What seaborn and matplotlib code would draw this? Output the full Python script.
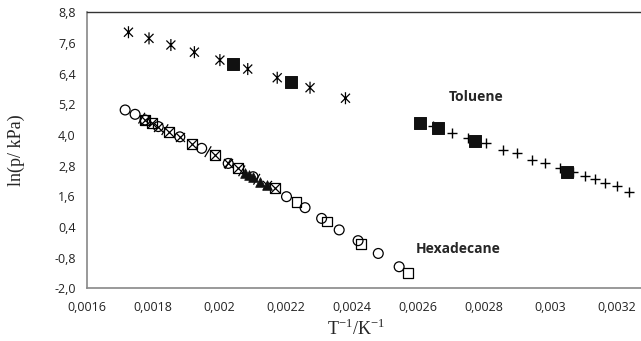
import numpy as np
import seaborn as sns
import matplotlib
matplotlib.use('Agg')
import matplotlib.pyplot as plt
from matplotlib.path import Path

# toluene
tol_star_x = [0.001726, 0.001788, 0.001854, 0.001925, 0.002002, 0.002086, 0.002175, 0.002274, 0.002381]
tol_star_y = [8.02, 7.78, 7.52, 7.24, 6.93, 6.58, 6.24, 5.85, 5.44]
tol_sq_x = [0.00204, 0.002218, 0.002605, 0.002661, 0.002771, 0.00305]
tol_sq_y = [6.78, 6.09, 4.48, 4.29, 3.78, 2.57]
tol_plus_x = [0.002645, 0.002702, 0.00275, 0.002805, 0.002856, 0.002898, 0.002943, 0.002983,
              0.003028, 0.003067, 0.003103, 0.003133, 0.003164, 0.0032, 0.003237]
tol_plus_y = [4.35, 4.08, 3.88, 3.68, 3.41, 3.30, 3.02, 2.91, 2.72, 2.55, 2.40, 2.28, 2.12, 1.99, 1.77]

# hexadecane
hex_circ_x = [0.001716, 0.001746, 0.001776, 0.001816, 0.001881, 0.001947, 0.002027, 0.002102,
              0.002203, 0.002259, 0.002309, 0.002362, 0.002419, 0.00248, 0.002543]
hex_circ_y = [4.98, 4.81, 4.59, 4.33, 3.93, 3.48, 2.89, 2.37, 1.59, 1.16, 0.74, 0.29, -0.13, -0.63, -1.15]
hex_sq_x = [0.001776, 0.001796, 0.001849, 0.001917, 0.001987, 0.002057, 0.002168, 0.002233,
            0.002324, 0.002427, 0.00257]
hex_sq_y = [4.59, 4.46, 4.13, 3.64, 3.22, 2.70, 1.92, 1.39, 0.62, -0.26, -1.38]
hex_x_x = [0.001776, 0.001796, 0.001816, 0.001849, 0.001881, 0.001917, 0.001987, 0.002027,
           0.002057, 0.002143, 0.002168]
hex_x_y = [4.59, 4.46, 4.33, 4.13, 3.93, 3.64, 3.22, 2.89, 2.70, 2.05, 1.92]
hex_slash_x = [0.001766, 0.001836, 0.001966, 0.002027, 0.002068, 0.002113]
hex_slash_y = [4.66, 4.21, 3.35, 2.89, 2.60, 2.27]
hex_fill_x = [0.002078, 0.00209, 0.002102, 0.002123, 0.002143]
hex_fill_y = [2.53, 2.45, 2.37, 2.18, 2.05]

xticks = [0.0016, 0.0018, 0.002, 0.0022, 0.0024, 0.0026, 0.0028, 0.003, 0.0032]
xtick_labels = ['0,0016', '0,0018', '0,002', '0,0022', '0,0024', '0,0026', '0,0028', '0,003', '0,0032']
yticks = [-2.0, -0.8, 0.4, 1.6, 2.8, 4.0, 5.2, 6.4, 7.6, 8.8]

sns.set_style('white')
plt.rcParams['font.family'] = ['Open Sans', 'DejaVu Sans']

star = Path([(0, -1), (0, 1), (-0.75, -0.75), (0.75, 0.75), (-0.75, 0.75), (0.75, -0.75)],
            [Path.MOVETO, Path.LINETO, Path.MOVETO, Path.LINETO, Path.MOVETO, Path.LINETO])
slash = Path([(-0.6, -1), (0.6, 1)], [Path.MOVETO, Path.LINETO])

fig = plt.figure(figsize=(6.41, 3.41), dpi=100)
ax = fig.add_axes([0.1353, 0.154, 0.8647, 0.81])

open_kw = dict(facecolor='none', edgecolor='black', linewidth=0.9)
sns.scatterplot(x=tol_star_x, y=tol_star_y, marker=star, s=75, ax=ax, **open_kw)
sns.scatterplot(x=tol_plus_x, y=tol_plus_y, marker='+', s=60, color='black', linewidth=1.0, ax=ax)
sns.scatterplot(x=tol_sq_x, y=tol_sq_y, marker='s', s=75, color='#111111', edgecolor='#111111', ax=ax)

sns.scatterplot(x=hex_circ_x, y=hex_circ_y, marker='o', s=50, ax=ax, **open_kw)
sns.scatterplot(x=hex_sq_x, y=hex_sq_y, marker='s', s=50, ax=ax, **open_kw)
sns.scatterplot(x=hex_x_x, y=hex_x_y, marker='x', s=42, color='black', linewidth=0.9, ax=ax)
sns.scatterplot(x=hex_slash_x, y=hex_slash_y, marker=slash, s=60, ax=ax, **open_kw)
sns.scatterplot(x=hex_fill_x, y=hex_fill_y, marker='^', s=48, color='#111111', edgecolor='#111111', ax=ax)

ax.text(0.002774, 5.49, 'Toluene', ha='center', va='center', fontsize=10, fontweight='bold')
ax.text(0.00272, -0.46, 'Hexadecane', ha='center', va='center', fontsize=10, fontweight='bold')

ax.set_xlim(0.0016, 0.003273)
ax.set_ylim(-2.0, 8.8)
ax.set_xticks(xticks)
ax.set_xticklabels(xtick_labels)
ax.set_yticks(yticks)
ax.set_yticklabels([f'{v:.1f}'.replace('.', ',') for v in yticks])
ax.tick_params(direction='in', length=4, width=0.8, color='#888888', labelsize=9,
               labelcolor='#222222', pad=9)
ax.tick_params(axis='y', pad=8)

for side in ['left', 'bottom']:
    ax.spines[side].set_color('#888888')
    ax.spines[side].set_linewidth(1.2)
ax.spines['top'].set_color('#333333')
ax.spines['top'].set_linewidth(1.0)
ax.spines['right'].set_visible(False)

ax.set_xlabel('T$^{\\mathregular{-1}}$/K$^{\\mathregular{-1}}$', family='Liberation Serif', fontsize=13)
ax.set_ylabel('ln(p/ kPa)', family='Liberation Serif', fontsize=13)
ax.xaxis.set_label_coords(0.485, -0.11)
ax.yaxis.set_label_coords(-0.112, 0.5)

fig.savefig('out.png', dpi=100)
